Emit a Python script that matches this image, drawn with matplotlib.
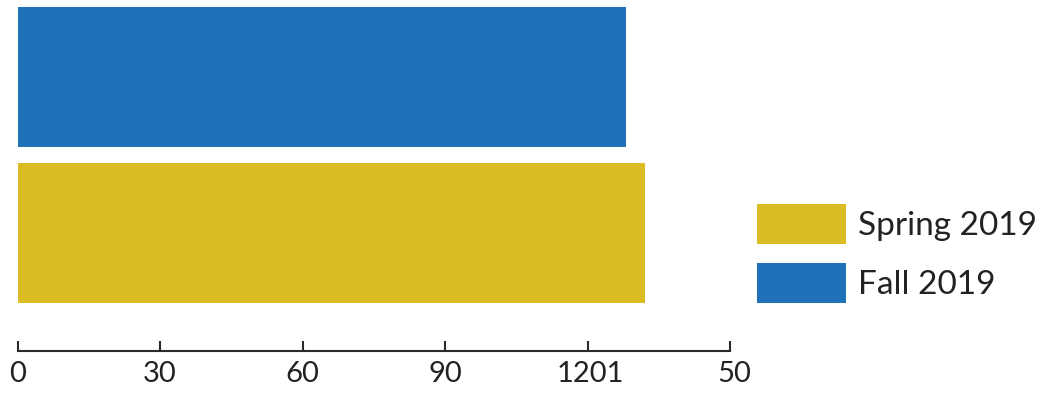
import matplotlib
matplotlib.use("Agg")
import matplotlib.pyplot as plt
import matplotlib.transforms as mtransforms

plt.rcParams['font.family'] = ['Lato', 'DejaVu Sans']

categories = ["Spring 2019", "Fall 2019"]
values = [132, 128]
colors = ["#DBBC24", "#1F71B8"]
tick_values = [0, 30, 60, 90, 120, 150]
tick_labels = ["0", "30", "60", "90", "1201", "50"]

W, H = 1042, 393
DPI = 100
fig = plt.figure(figsize=(W / DPI, H / DPI), dpi=DPI)

ax_left = 17.5 / W
ax_right = 730 / W
ax_bottom = 1 - 350.5 / H
ax = fig.add_axes([ax_left, ax_bottom, ax_right - ax_left, 1 - ax_bottom])

bars = ax.barh(range(len(categories)), values, height=0.9, color=colors)
ax.set_xlim(0, 150)
ax.set_ylim(-0.752, 1.495)

for s in ["top", "right", "left"]:
    ax.spines[s].set_visible(False)
ax.spines["bottom"].set_color("#2a2a2a")
ax.spines["bottom"].set_linewidth(1.5)
ax.spines["bottom"].set_capstyle("projecting")
ax.set_yticks([])
ax.set_xticks(tick_values)
ax.set_xticklabels(tick_labels)
ax.tick_params(axis="x", direction="in", length=7.5, width=1.5, color="#2a2a2a",
               labelsize=21, labelcolor="#222222", pad=7.5)

# small offsets to mimic reference label placement
offsets = {4: 3 / DPI, 5: 4 / DPI}
for i, lbl in enumerate(ax.get_xticklabels()):
    if i in offsets:
        lbl.set_transform(lbl.get_transform() +
                          mtransforms.ScaledTranslation(offsets[i], 0, fig.dpi_scale_trans))

fs = 24
fpx = fs * DPI / 72
hh = (40 / fpx - 0.245) / 0.65
leg = fig.legend(handles=[bars[0], bars[1]], labels=categories,
                 loc="upper left", bbox_to_anchor=(757 / W, 1 - 204 / H),
                 bbox_transform=fig.transFigure, frameon=False,
                 fontsize=fs, handlelength=89 / fpx, handleheight=hh,
                 handletextpad=12 / fpx, labelspacing=19 / fpx,
                 borderpad=0, borderaxespad=0, labelcolor="#222222")

fig.savefig("out.png", dpi=DPI)
